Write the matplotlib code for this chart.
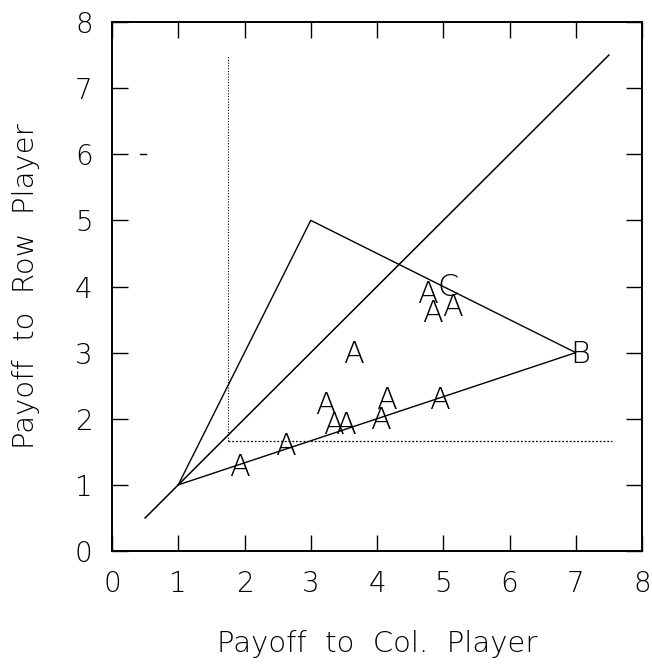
import matplotlib
matplotlib.use("Agg")
import matplotlib.pyplot as plt

# Boundary of the payoff region (triangle) and the 45-degree line
triangle_x = [1, 3, 7, 1]
triangle_y = [1, 5, 3, 1]
diag_x = [0.5, 7.5]
diag_y = [0.5, 7.5]

# Dotted security levels
secure_col = 1.75
secure_row = 5 / 3
secure_top = 7.5
secure_right = 7.55

# Letter markers (observed outcomes)
marker_text = ["A", "A", "A", "A", "A", "A", "A", "A", "A", "A", "A", "A", "C", "B"]
marker_x = [1.92, 2.62, 3.22, 3.34, 3.52, 4.05, 4.15, 4.94, 3.65, 4.76, 4.84, 5.14, 5.07, 7.07]
marker_y = [1.31, 1.63, 2.24, 1.94, 1.94, 2.02, 2.32, 2.32, 3.02, 3.93, 3.63, 3.73, 4.03, 3.02]

# small stray mark in the scan
stray_x = [0.42, 0.52]
stray_y = [6.0, 6.0]

ticks = [0, 1, 2, 3, 4, 5, 6, 7, 8]

plt.rcParams["font.family"] = ["DejaVu Sans"]
plt.rcParams["font.weight"] = "light"
plt.rcParams["axes.labelweight"] = "light"

fig = plt.figure(figsize=(6.52, 6.66), dpi=100)
ax = fig.add_axes([112 / 652, 115 / 666, 530 / 652, 529 / 666])

ax.plot(diag_x, diag_y, color="black", linewidth=1.1)
ax.plot(triangle_x, triangle_y, color="black", linewidth=1.0)
ax.plot([secure_col, secure_col], [secure_row, secure_top], color="black",
        linewidth=0.8, linestyle=(0, (1, 1.5)))
ax.plot([secure_col, secure_right], [secure_row, secure_row], color="black",
        linewidth=0.9, linestyle=(0, (1.5, 1.5)))
ax.plot(stray_x, stray_y, color="black", linewidth=1.0)

for t, x, y in zip(marker_text, marker_x, marker_y):
    ax.text(x, y, t, ha="center", va="center_baseline", fontsize=22,
            fontweight="light", color="black")

ax.set_xlim(0, 8)
ax.set_ylim(0, 8)
ax.set_xticks(ticks)
ax.set_yticks(ticks)
ax.tick_params(direction="in", length=11.5, width=1.0, labelsize=20,
               top=True, right=True, pad=14)
for s in ax.spines.values():
    s.set_linewidth(1.4)

ax.set_xlabel("Payoff  to  Col.  Player", fontsize=21, labelpad=23)
ax.set_ylabel("Payoff  to  Row  Player", fontsize=21, labelpad=25)

fig.savefig("out.png", dpi=100)
